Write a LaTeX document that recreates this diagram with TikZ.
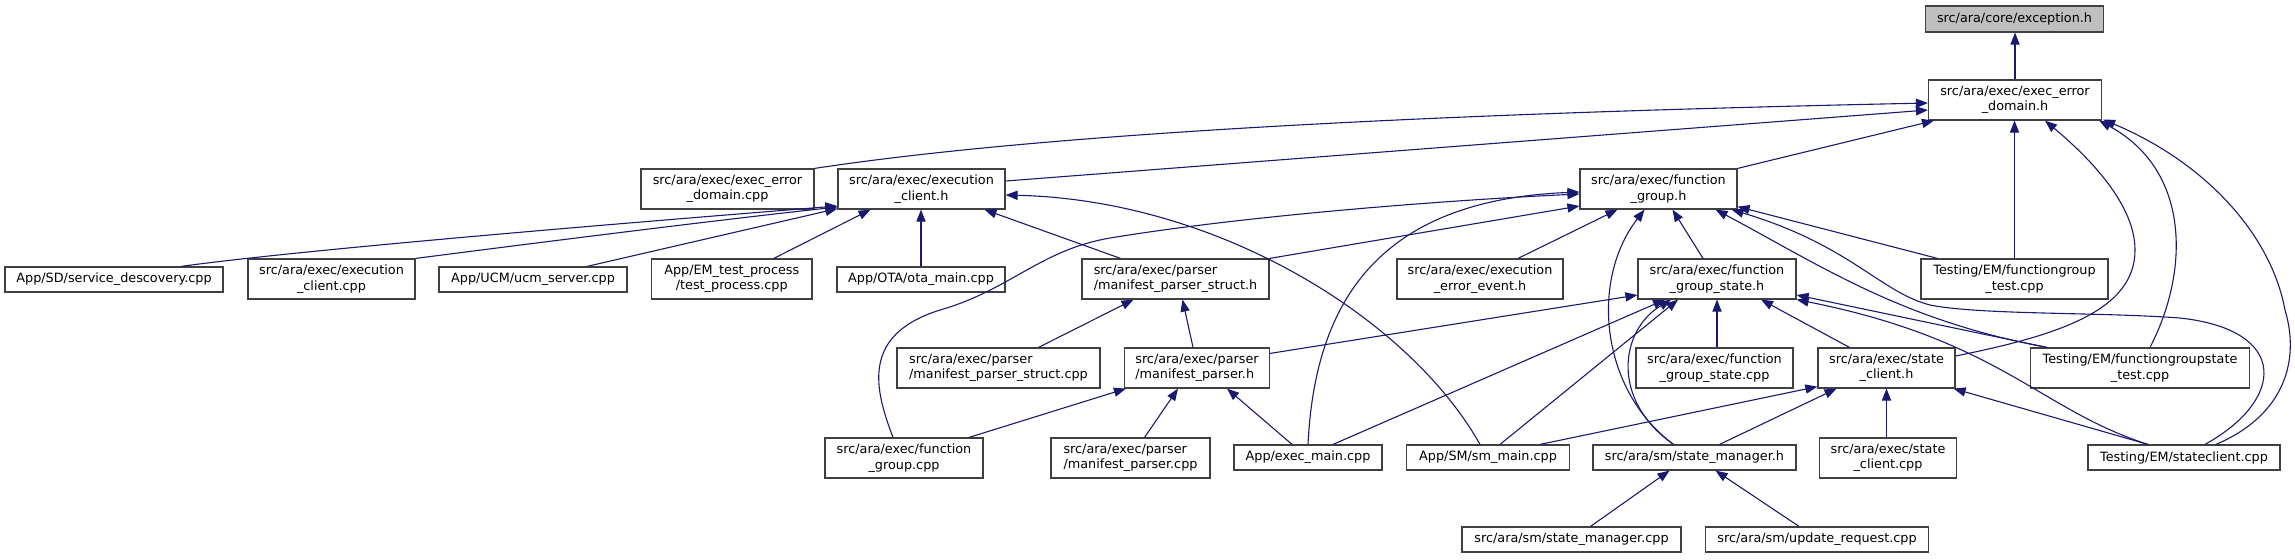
\documentclass[tikz,border=0pt]{standalone}
\usepackage{fontspec}
\setmainfont{DejaVu Sans}
\usetikzlibrary{arrows.meta,calc}
\definecolor{edgeblue}{HTML}{191970}
\definecolor{boxline}{HTML}{404040}
\definecolor{hilite}{HTML}{BFBFBF}
\tikzset{
  nd/.style={draw=boxline, line width=0.6pt, fill=white, inner sep=0pt, align=center,
    font=\fontsize{6.4pt}{7.65pt}\selectfont},
  one/.style={minimum height=12.5pt},
  two/.style={minimum height=20pt},
  ed/.style={draw=edgeblue, line width=0.55pt, -{Triangle[length=6pt,width=4.6pt]}},
}
\begin{document}
\begin{tikzpicture}[x=0.5pt,y=-0.5pt]
\useasboundingbox (0,0) rectangle (2295,559);
% row 0
\node[nd,minimum height=13pt,minimum width=89pt,fill=hilite] (exc) at (2014.5,19) {src/ara/core/exception.h};
% row 1
\node[nd,two,minimum width=86.5pt] (eedh) at (2015,100) {src/ara/exec/exec\_error\\\_domain.h};
% row 2
\node[nd,two,minimum width=86.5pt] (eedc) at (727.5,189) {src/ara/exec/exec\_error\\\_domain.cpp};
\node[nd,two,minimum width=83.5pt] (ech) at (921.5,189) {src/ara/exec/execution\\\_client.h};
\node[nd,two,minimum width=78.5pt] (fgh) at (1658.5,189) {src/ara/exec/function\\\_group.h};
% row 3
\node[nd,one,minimum width=109pt] (sd) at (114,279.5) {App/SD/service\_descovery.cpp};
\node[nd,two,minimum width=83.5pt] (ecc) at (331.5,279) {src/ara/exec/execution\\\_client.cpp};
\node[nd,one,minimum width=94pt] (ucm) at (533,279.5) {App/UCM/ucm\_server.cpp};
\node[nd,two,minimum width=80.25pt] (tp) at (731.75,279) {App/EM\_test\_process\\/test\_process.cpp};
\node[nd,one,minimum width=84pt] (ota) at (921,279.5) {App/OTA/ota\_main.cpp};
\node[nd,two,minimum width=93.5pt,align=left] (mpsh) at (1175.5,279) {src/ara/exec/parser\\/manifest\_parser\_struct.h};
\node[nd,two,minimum width=83pt] (eeeh) at (1480,279) {src/ara/exec/execution\\\_error\_event.h};
\node[nd,two,minimum width=79pt] (fgsh) at (1717,279) {src/ara/exec/function\\\_group\_state.h};
\node[nd,two,minimum width=93.5pt] (fgt) at (2014.5,279) {Testing/EM/functiongroup\\\_test.cpp};
% row 4
\node[nd,two,minimum width=101.5pt,align=left] (mpsc) at (998.5,368) {src/ara/exec/parser\\/manifest\_parser\_struct.cpp};
\node[nd,two,minimum width=72.5pt,align=left] (mph) at (1197,368) {src/ara/exec/parser\\/manifest\_parser.h};
\node[nd,two,minimum width=78.5pt] (fgsc) at (1714.5,368) {src/ara/exec/function\\\_group\_state.cpp};
\node[nd,two,minimum width=68.5pt] (sch) at (1886.5,368) {src/ara/exec/state\\\_client.h};
\node[nd,two,minimum width=109.5pt] (fgst) at (2140,368) {Testing/EM/functiongroupstate\\\_test.cpp};
% row 5
\node[nd,two,minimum width=79pt] (fgc) at (904,458) {src/ara/exec/function\\\_group.cpp};
\node[nd,two,minimum width=79.5pt,align=left] (mpc) at (1130.5,458) {src/ara/exec/parser\\/manifest\_parser.cpp};
\node[nd,one,minimum width=74pt] (em) at (1308,457.5) {App/exec\_main.cpp};
\node[nd,one,minimum width=81.5pt] (smm) at (1488,457.5) {App/SM/sm\_main.cpp};
\node[nd,one,minimum width=101.5pt] (smh) at (1694.5,457.5) {src/ara/sm/state\_manager.h};
\node[nd,two,minimum width=68.5pt] (scc) at (1888,458) {src/ara/exec/state\\\_client.cpp};
\node[nd,one,minimum width=96pt] (stc) at (2184,457.5) {Testing/EM/stateclient.cpp};
% row 6
\node[nd,one,minimum width=109.5pt] (smc) at (1571.5,539.5) {src/ara/sm/state\_manager.cpp};
\node[nd,one,minimum width=111.5pt] (urc) at (1817,539.5) {src/ara/sm/update\_request.cpp};

% edges into exception.h / exec_error_domain.h
\draw[ed] (eedh.north) -- (eedh.north |- exc.south);
\draw[ed] (eedc.north east) .. controls (1100,125) and (1600,110) .. ($(eedh.west)+(0,3)$);
\draw[ed] ($(ech.east)+(0,-8)$) -- ($(eedh.west)+(0,10)$);
\draw[ed] (fgh.north east) -- ($(eedh.south west)+(6,0)$);
\draw[ed] (fgt.north) -- (fgt.north |- eedh.south);
\draw[ed] ($(sch.east)+(0,-12)$) .. controls (2060,335) and (2135,310) .. (2135,250) .. controls (2135,200) and (2080,150) .. ($(eedh.south)+(30,0)$);
\draw[ed] ($(fgst.north)+(10,0)$) .. controls (2190,270) and (2190,170) .. ($(eedh.south east)+(-3,0)$);
\draw[ed] ($(stc.north)+(32,0)$) .. controls (2285,415) and (2300,360) .. (2285,310) .. controls (2270,230) and (2200,160) .. ($(eedh.south east)+(1,-1)$);

% edges into execution_client.h
\draw[ed] ($(sd.north)+(67,0)$) .. controls (300,250) and (600,225) .. ($(ech.west)+(0,17)$);
\draw[ed] (ecc.north east) .. controls (520,245) and (700,222) .. ($(ech.west)+(0,18)$);
\draw[ed] ($(ucm.north)+(54,0)$) -- ($(ech.south west)+(0,-1)$);
\draw[ed] ($(tp.north)+(42,0)$) -- ($(ech.south)+(-51,0)$);
\draw[ed] (ota.north) -- (ota.north |- ech.south);
\draw[ed] ($(mpsh.north)+(-55,0)$) -- ($(ech.south)+(63,0)$);
\draw[ed] ($(smm.north)+(-8,0)$) .. controls (1410,320) and (1220,200) .. ($(ech.east)+(0,6)$);

% edges into function_group.h
\draw[ed] ($(fgc.north)+(-11,0)$) .. controls (875,390) and (860,335) .. (940,310) .. controls (1010,290) and (1040,250) .. (1110,238) .. controls (1250,215) and (1450,200) .. ($(fgh.west)+(0,5)$);
\draw[ed] (mpsh.north east) -- ($(fgh.west)+(0,17)$);
\draw[ed] (em.north) .. controls (1315,300) and (1380,200) .. ($(fgh.west)+(0,3)$);
\draw[ed] ($(eeeh.north)+(38,0)$) -- ($(fgh.south)+(-41,0)$);
\draw[ed] ($(fgsh.north)+(-14,0)$) -- ($(fgh.south)+(14,0)$);
\draw[ed] ($(smh.north)+(-21,0)$) .. controls (1600,390) and (1590,280) .. ($(fgh.south)+(-14,0)$);
\draw[ed] ($(fgt.north)+(-77,0)$) -- ($(fgh.south east)+(0,-3)$);
\draw[ed] ($(fgst.north)+(-93,0)$) .. controls (1900,320) and (1820,265) .. ($(fgh.south)+(57,0)$);
\draw[ed] ($(stc.north)+(21,0)$) .. controls (2285,400) and (2290,330) .. (2180,318) .. controls (2100,312) and (1980,315) .. (1930,305) .. controls (1880,292) and (1850,245) .. ($(fgh.south east)+(-6,0)$);

% edges into function_group_state.h
\draw[ed] ($(mph.north east)+(0,6)$) -- ($(fgsh.west)+(0,16)$);
\draw[ed] ($(em.north)+(25,0)$) -- ($(fgsh.south)+(-52,0)$);
\draw[ed] ($(smm.north)+(12,0)$) -- ($(fgsh.south)+(-39,0)$);
\draw[ed] ($(smh.north)+(-21,0)$) .. controls (1610,400) and (1620,330) .. ($(fgsh.south)+(-46,0)$);
\draw[ed] (fgsc.north -| fgsh.south) -- (fgsh.south);
\draw[ed] ($(sch.north)+(-37,0)$) -- ($(fgsh.south)+(44,0)$);
\draw[ed] ($(fgst.north)+(-93,0)$) -- ($(fgsh.east)+(0,16)$);
\draw[ed] ($(stc.north)+(-36,0)$) .. controls (2040,410) and (2000,340) .. (fgsh.south east);

% parser edges
\draw[ed] ($(mpsc.north)+(40,0)$) -- ($(mpsh.south)+(-42,0)$);
\draw[ed] ($(mph.north)+(-4,0)$) -- ($(mpsh.south)+(7,0)$);
\draw[ed] ($(fgc.north)+(65,0)$) -- ($(mph.south west)+(2,0)$);
\draw[ed] ($(mpc.north)+(14,0)$) -- ($(mph.south)+(-19,0)$);
\draw[ed] ($(em.north)+(-16,0)$) -- ($(mph.south)+(30,0)$);

% state client edges
\draw[ed] ($(smm.north)+(52,0)$) -- ($(sch.south west)+(0,-2)$);
\draw[ed] ($(smh.north)+(25,0)$) -- ($(sch.south)+(-50,0)$);
\draw[ed] (scc.north -| sch.south) -- (sch.south);
\draw[ed] ($(stc.north)+(-36,0)$) -- ($(sch.south east)+(-2,0)$);

% state manager edges
\draw[ed] ($(smc.north)+(19,0)$) -- ($(smh.south)+(-25,0)$);
\draw[ed] ($(urc.north)+(-18,0)$) -- ($(smh.south)+(21,0)$);
\end{tikzpicture}
\end{document}
